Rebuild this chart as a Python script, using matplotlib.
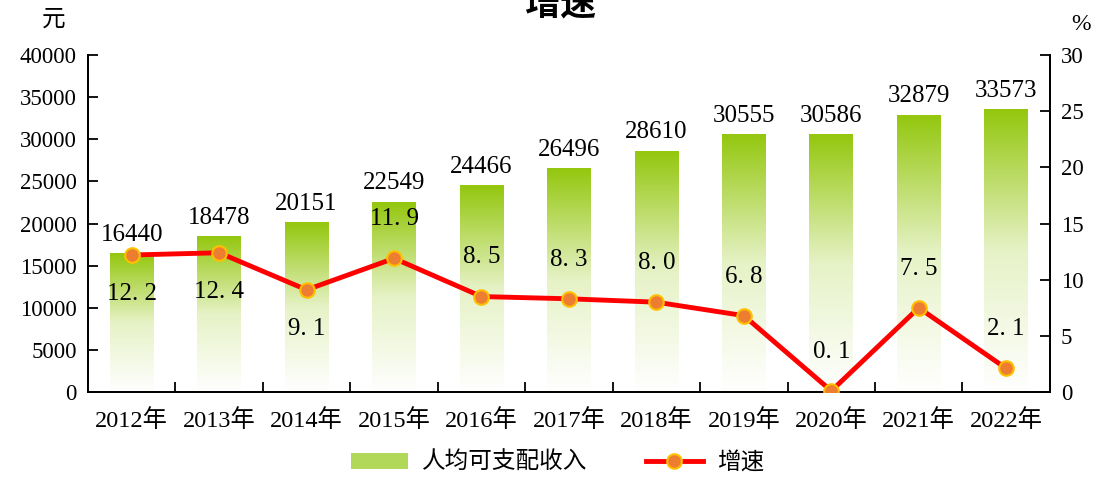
import numpy as np
import matplotlib.pyplot as plt
from matplotlib.patches import Patch
from matplotlib.lines import Line2D
from matplotlib.colors import LinearSegmentedColormap

plt.rcParams['font.family'] = ['Liberation Serif', 'Noto Sans CJK SC', 'DejaVu Sans']

years = ["2012年", "2013年", "2014年", "2015年", "2016年", "2017年",
         "2018年", "2019年", "2020年", "2021年", "2022年"]
income = [16440, 18478, 20151, 22549, 24466, 26496, 28610, 30555, 30586, 32879, 33573]
growth = [12.2, 12.4, 9.1, 11.9, 8.5, 8.3, 8.0, 6.8, 0.1, 7.5, 2.1]
# which growth labels sit below the point
below = [True, True, True, False, False, False, False, False, False, False, False]

x = np.arange(len(years))
bar_w = 0.5

fig = plt.figure(figsize=(11.04, 4.79), dpi=100)
ax = fig.add_axes([0.0797, 0.1816, 0.8713, 0.7034])
ax2 = ax.twinx()

# gradient bars
cmap = LinearSegmentedColormap.from_list("g", ["#ffffff", "#e6f2c6", "#94c70e"])
grad = np.linspace(0, 1, 256).reshape(-1, 1)
for xi, h in zip(x, income):
    ax.imshow(grad, extent=[xi - bar_w / 2, xi + bar_w / 2, 0, h], origin="lower",
              aspect="auto", cmap=cmap, vmin=0, vmax=1, zorder=2)
    ax.text(xi, h + 900, str(h), ha="center", va="bottom", fontsize=18, zorder=5)

ax.set_xlim(-0.5, len(years) - 0.5)
ax.set_ylim(0, 40000)
ax.set_yticks(np.arange(0, 40001, 5000))
ax.set_xticks(x)
ax.set_xticklabels(years, fontsize=17.5)
ax.set_xticks(np.arange(0.5, len(years) - 1, 1), minor=True)
ax.tick_params(axis="x", which="major", length=0, pad=12)
ax.tick_params(axis="x", which="minor", direction="in", length=7, width=1.3)
ax.tick_params(axis="y", direction="in", length=7, width=1.3, labelsize=16.5, pad=8)

ax2.plot(x, growth, color="#ff0000", lw=3.5, marker="o", ms=10.5,
         markerfacecolor="#ed7d31", markeredgecolor="#ffc000", markeredgewidth=1.5, zorder=4)
ax2.set_ylim(0, 30)
ax2.set_yticks(np.arange(0, 31, 5))
ax2.tick_params(axis="y", direction="in", length=7, width=1.3, labelsize=16.5, pad=8)
for xi, g, b in zip(x, growth, below):
    lab = f"{g:.1f}".replace(".", ". ")
    if b:
        ax2.text(xi, g - 2.5, lab, ha="center", va="top", fontsize=18, zorder=5)
    else:
        ax2.text(xi, g + 2.5, lab, ha="center", va="bottom", fontsize=18, zorder=5)

for a in (ax, ax2):
    a.spines["top"].set_visible(False)
    for s in ("left", "right", "bottom"):
        a.spines[s].set_linewidth(1.3)

fig.text(54 / 1104, 1 - 20 / 479, "元", ha="center", va="center", fontsize=17)
fig.text(1081 / 1104, 1 - 25 / 479, "%", ha="center", va="center", fontsize=17)
fig.text(561 / 1104, 1 - 5 / 479, "增速", ha="center", va="center", fontsize=26, fontweight="bold")

handles = [Patch(facecolor="#b2d85a", edgecolor="none"),
           Line2D([0], [0], color="#ff0000", lw=3.5, marker="o", ms=10.5,
                  markerfacecolor="#ed7d31", markeredgecolor="#ffc000", markeredgewidth=1.5)]
fig.legend(handles, ["人均可支配收入", "增速"], loc="center", bbox_to_anchor=(0.505, 0.033),
           ncol=2, frameon=False, fontsize=17, handlelength=2.4, handleheight=0.7,
           columnspacing=2.5, handletextpad=0.6)

fig.savefig("out.png", dpi=100)
